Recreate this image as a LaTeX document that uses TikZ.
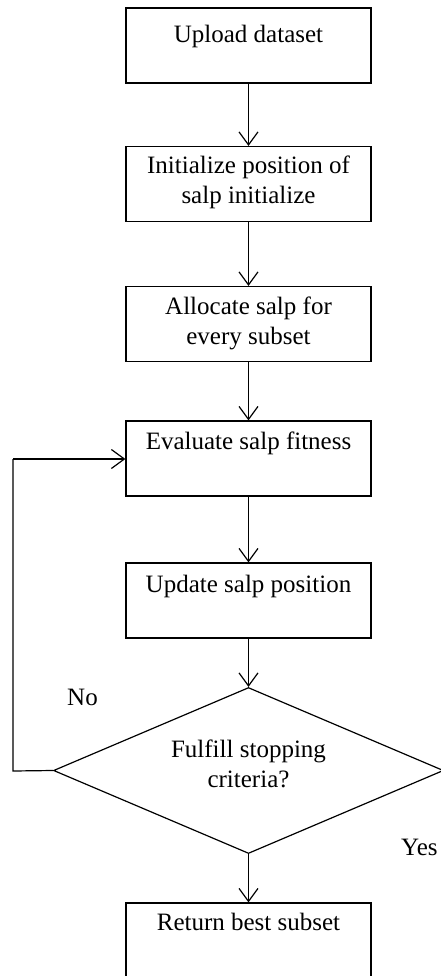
\documentclass[tikz,border=0pt]{standalone}
\usepackage{fontspec}
\setmainfont{Liberation Serif}
\usetikzlibrary{arrows.meta,shapes.geometric}
\begin{document}
\begin{tikzpicture}[x=1pt,y=-1pt,
  box/.style={draw, line width=1.2pt, minimum width=245pt, minimum height=75pt, inner sep=0pt},
  txt/.style={font=\fontsize{25}{30}\selectfont, align=center, inner sep=0pt, anchor=base},
  lab/.style={font=\fontsize{25}{30}\selectfont, inner sep=0pt, anchor=base west},
  arr/.style={line width=1.2pt, -{Straight Barb[length=13pt,width=19pt,line width=1.2pt]}},
  ln/.style={line width=1.2pt}]
\clip (0,0) rectangle (441,976);
\fill[white] (0,0) rectangle (441,976);
\node[box] (b1) at (248.5,45.5) {};
\node[box] (b2) at (248.5,184) {};
\node[box] (b3) at (248.5,324) {};
\node[box] (b4) at (248.5,458.5) {};
\node[box] (b5) at (248.5,600.5) {};
\node[draw, line width=1.2pt, diamond, minimum width=390pt, minimum height=166pt, inner sep=0pt, aspect=2.35] (d) at (248.5,770.5) {};
\node[box] (b6) at (248.5,940.5) {};

\node[txt] (t1) at (248.5,43) {Upload dataset};
\node[txt] (t2) at (248.5,204) {Initialize position of\\salp initialize};
\node[txt] (t3) at (248.5,344) {Allocate salp for\\every subset};
\node[txt] (t4) at (248.5,449) {Evaluate salp fitness};
\node[txt] (t5) at (248.5,592) {Update salp position};
\node[txt] (t6) at (248.5,787) {Fulfill stopping\\criteria?};
\node[txt] (t7) at (248.5,930) {Return best subset};
\node[lab] (no) at (67,705) {No};
\node[lab] (yes) at (401,855) {Yes};

\draw[arr] (b1.south) -- (b2.north);
\draw[arr] (b2.south) -- (b3.north);
\draw[arr] (b3.south) -- (b4.north);
\draw[arr] (b4.south) -- (b5.north);
\draw[arr] (b5.south) -- (d.north);
\draw[arr] (d.south) -- (b6.north);
\coordinate (c1) at (13,771);
\coordinate (c2) at (13,459);
\draw[ln] (d.west) -- (c1) -- (c2);
\draw[arr] (c2) -- (b4.west |- c2);
\end{tikzpicture}
\end{document}
